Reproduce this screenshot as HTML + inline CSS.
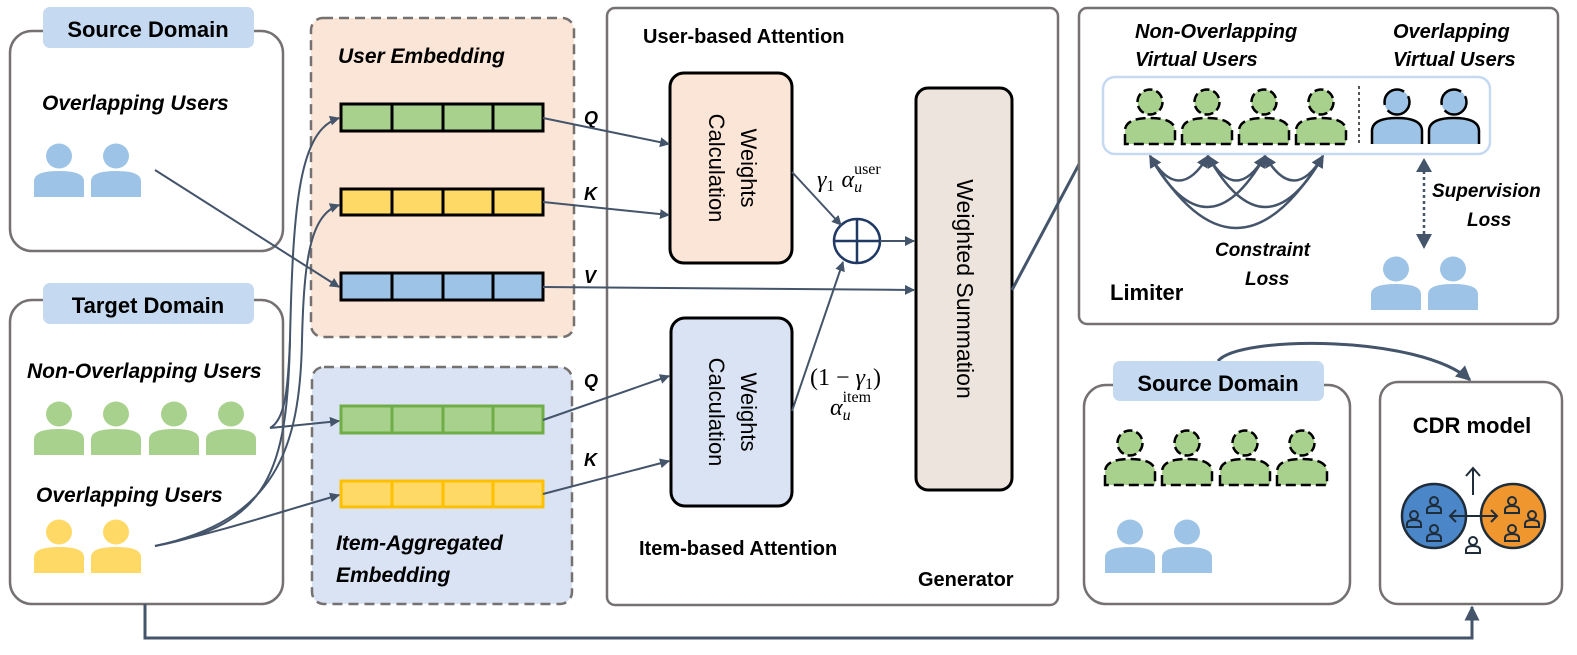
<!DOCTYPE html>
<html><head><meta charset="utf-8"><style>
html,body{margin:0;padding:0;background:#fff;}
svg{display:block;}
.b{font-family:"Liberation Sans",sans-serif;font-weight:bold;fill:#000;}
.bi{font-family:"Liberation Sans",sans-serif;font-weight:bold;font-style:italic;fill:#000;}
.n{font-family:"Liberation Sans",sans-serif;fill:#000;}
.m{font-family:"Liberation Serif",serif;fill:#000;}
</style></head><body>
<svg width="1577" height="655" viewBox="0 0 1577 655" xmlns="http://www.w3.org/2000/svg">
<defs>
<marker id="ah" viewBox="0 0 10 10" refX="9" refY="5" markerWidth="5" markerHeight="5" orient="auto-start-reverse"><path d="M0,0 L10,5 L0,10 Z" fill="#44546a"/></marker>
<g id="u"><ellipse cx="25" cy="13" rx="13" ry="12.5"/><path d="M0,54 L0,38 Q0,28 25,28 Q50,28 50,38 L50,54 Z"/></g>
<g id="ud"><circle cx="26" cy="13" r="12.5" fill="#a9d18e" stroke="#000" stroke-width="2.5" stroke-dasharray="9 4"/><path d="M1,55 L1,42 Q1,29 26,29 Q51,29 51,42 L51,55 Z" fill="#a9d18e" stroke="#000" stroke-width="2.5" stroke-dasharray="10 5"/></g>
<g id="uo"><circle cx="26" cy="13" r="12.5" fill="#9dc3e6" stroke="#000" stroke-width="2.5" stroke-dasharray="30 6"/><path d="M1,55 L1,42 Q1,29 26,29 Q51,29 51,42 L51,55" fill="#9dc3e6" stroke="#000" stroke-width="2.5"/></g>
<g id="sm" fill="none" stroke="#1f2d3a" stroke-width="2"><circle cx="0" cy="-4" r="4"/><path d="M-7,8 L-7,5 Q-7,1 0,1 Q7,1 7,5 L7,8 Z"/></g>
</defs>

<!-- Left source box -->
<rect x="10" y="31" width="273" height="220" rx="22" fill="#fff" stroke="#767171" stroke-width="2.5"/>
<rect x="43" y="7" width="211" height="41" rx="7" fill="#c5d9f1"/>
<text x="148" y="37" class="b" font-size="22" text-anchor="middle">Source Domain</text>
<text x="42" y="110" class="bi" font-size="21">Overlapping Users</text>
<g fill="#9dc3e6"><use href="#u" x="34" y="143"/><use href="#u" x="91" y="143"/></g>

<!-- Left target box -->
<rect x="10" y="300" width="273" height="304" rx="22" fill="#fff" stroke="#767171" stroke-width="2.5"/>
<rect x="43" y="283" width="211" height="41" rx="7" fill="#c5d9f1"/>
<text x="148" y="313" class="b" font-size="22" text-anchor="middle">Target Domain</text>
<text x="27" y="378" class="bi" font-size="21">Non-Overlapping Users</text>
<g fill="#a9d18e"><use href="#u" x="34" y="401"/><use href="#u" x="91" y="401"/><use href="#u" x="149" y="401"/><use href="#u" x="206" y="401"/></g>
<text x="36" y="502" class="bi" font-size="21">Overlapping Users</text>
<g fill="#ffd966"><use href="#u" x="34" y="519"/><use href="#u" x="91" y="519"/></g>

<!-- User embedding -->
<rect x="311" y="18" width="263" height="319" rx="12" fill="#fbe5d6" stroke="#767171" stroke-width="2.5" stroke-dasharray="10 6"/>
<text x="338" y="63" class="bi" font-size="21">User Embedding</text>
<g stroke="#000" stroke-width="3">
<rect x="341" y="104" width="202" height="27" fill="#a9d18e"/><path d="M392,104v27M443,104v27M493,104v27"/>
<rect x="341" y="189" width="202" height="26" fill="#ffd966"/><path d="M392,189v26M443,189v26M493,189v26"/>
<rect x="341" y="273" width="202" height="27" fill="#9dc3e6"/><path d="M392,273v27M443,273v27M493,273v27"/>
</g>

<!-- Item embedding -->
<rect x="312" y="367" width="260" height="237" rx="12" fill="#dae3f3" stroke="#767171" stroke-width="2.5" stroke-dasharray="10 6"/>
<g stroke="#70ad47" stroke-width="3"><rect x="341" y="406" width="202" height="27" fill="#a9d18e"/><path d="M392,406v27M443,406v27M493,406v27"/></g>
<g stroke="#ffc000" stroke-width="3"><rect x="341" y="481" width="202" height="26" fill="#ffd966"/><path d="M392,481v26M443,481v26M493,481v26"/></g>
<text x="336" y="550" class="bi" font-size="21">Item-Aggregated</text>
<text x="336" y="582" class="bi" font-size="21">Embedding</text>

<!-- Q K V labels -->
<text x="584" y="124" class="bi" font-size="18">Q</text>
<text x="584" y="200" class="bi" font-size="18">K</text>
<text x="584" y="283" class="bi" font-size="18">V</text>
<text x="584" y="387" class="bi" font-size="18">Q</text>
<text x="584" y="466" class="bi" font-size="18">K</text>

<!-- Generator -->
<rect x="607" y="8" width="451" height="597" rx="8" fill="#fff" stroke="#767171" stroke-width="2.5"/>
<text x="643" y="43" class="b" font-size="20">User-based Attention</text>
<text x="639" y="555" class="b" font-size="20">Item-based Attention</text>
<text x="918" y="586" class="b" font-size="20">Generator</text>
<rect x="670" y="73" width="122" height="190" rx="14" fill="#fbe5d6" stroke="#000" stroke-width="3"/>
<rect x="671" y="318" width="121" height="188" rx="14" fill="#dae3f3" stroke="#000" stroke-width="3"/>
<rect x="916" y="88" width="96" height="402" rx="12" fill="#ede4dd" stroke="#000" stroke-width="3"/>
<text transform="translate(741,168) rotate(90)" text-anchor="middle" class="n" font-size="22">Weights</text>
<text transform="translate(709,168) rotate(90)" text-anchor="middle" class="n" font-size="22">Calculation</text>
<text transform="translate(741,412) rotate(90)" text-anchor="middle" class="n" font-size="22">Weights</text>
<text transform="translate(709,412) rotate(90)" text-anchor="middle" class="n" font-size="22">Calculation</text>
<text transform="translate(957,289) rotate(90)" text-anchor="middle" class="n" font-size="23">Weighted Summation</text>
<ellipse cx="857" cy="241" rx="23" ry="22" fill="#fff" stroke="#1f3864" stroke-width="2.5"/>
<path d="M834,241h46M857,219v44" stroke="#1f3864" stroke-width="2.5"/>
<text x="817" y="187" class="m" font-size="24" font-style="italic">γ<tspan font-size="16" dy="4" font-style="normal">1</tspan><tspan dx="7" dy="-4">α</tspan><tspan font-size="16" dy="5">u</tspan><tspan font-size="16" dx="-8" dy="-18" font-style="normal">user</tspan></text>
<text x="810" y="385" class="m" font-size="24">(1 − <tspan font-style="italic">γ</tspan><tspan font-size="16" dy="4">1</tspan><tspan dy="-4">)</tspan></text>
<text x="830" y="415" class="m" font-size="24" font-style="italic">α<tspan font-size="16" dy="5">u</tspan><tspan font-size="16" dx="-8" dy="-18" font-style="normal">item</tspan></text>

<!-- Arrows -->
<g fill="none" stroke="#44546a" stroke-width="2" marker-end="url(#ah)">
<path d="M543,118 L669,144"/>
<path d="M543,202 L669,215"/>
<path d="M543,287 L914,290"/>
<path d="M543,420 L669,376"/>
<path d="M543,494 L669,461"/>
<path d="M792,172 L841,225"/>
<path d="M792,411 L843,262"/>
<path d="M880,241 L914,241"/>
<path d="M155,170 L339,287"/>
<path d="M270,428 L339,421"/>
<path d="M155,546 C220,532 270,515 339,495"/>
<path d="M155,546 C270,525 287,470 290,340 C293,200 300,130 339,118"/>
<path d="M155,546 C275,520 300,450 302,340 C304,260 310,215 339,205"/>
<path d="M270,428 C285,420 288,390 290,340" marker-end="none"/>
<path d="M1012,290 L1102,121" stroke-width="3"/>
<path d="M1218,361 C1240,335 1420,335 1470,380" stroke-width="3"/>
<path d="M145,604 L145,638 L1472,638 L1472,607" stroke-width="3"/>
</g>

<!-- Limiter box -->
<rect x="1079" y="8" width="479" height="316" rx="8" fill="#fff" stroke="#767171" stroke-width="2.5"/>
<text x="1135" y="38" class="bi" font-size="20">Non-Overlapping</text>
<text x="1135" y="66" class="bi" font-size="20">Virtual Users</text>
<text x="1393" y="38" class="bi" font-size="20">Overlapping</text>
<text x="1393" y="66" class="bi" font-size="20">Virtual Users</text>
<rect x="1103" y="77" width="387" height="77" rx="12" fill="#fff" stroke="#c5d9f1" stroke-width="2.5"/>
<use href="#ud" x="1124" y="89"/><use href="#ud" x="1181" y="89"/><use href="#ud" x="1238" y="89"/><use href="#ud" x="1295" y="89"/>
<path d="M1359,86v60" stroke="#555" stroke-width="2" stroke-dasharray="3 3"/>
<use href="#uo" x="1371" y="89"/><use href="#uo" x="1428" y="89"/>
<g fill="none" stroke="#44546a" stroke-width="2.5" marker-end="url(#ah)" marker-start="url(#ah)">
<path d="M1150,156 Q1179,205 1208,156"/>
<path d="M1208,156 Q1236,205 1265,156"/>
<path d="M1265,156 Q1294,205 1323,156"/>
<path d="M1150,156 Q1207,258 1265,156"/>
<path d="M1208,156 Q1265,258 1323,156"/>
<path d="M1150,156 Q1236,300 1323,156"/>
</g>
<path d="M1424,165 L1424,240" stroke="#44546a" stroke-width="2.5" stroke-dasharray="3 3" fill="none"/>
<path d="M1416,172 L1424,158 L1432,172 Z M1416,234 L1424,249 L1432,234 Z" fill="#44546a"/>
<text x="1215" y="256" class="bi" font-size="19">Constraint</text>
<text x="1245" y="285" class="bi" font-size="19">Loss</text>
<text x="1432" y="197" class="bi" font-size="19">Supervision</text>
<text x="1467" y="226" class="bi" font-size="19">Loss</text>
<text x="1110" y="300" class="b" font-size="22">Limiter</text>
<g fill="#9dc3e6"><use href="#u" x="1371" y="256"/><use href="#u" x="1428" y="256"/></g>

<!-- Bottom right source -->
<rect x="1084" y="385" width="266" height="219" rx="22" fill="#fff" stroke="#767171" stroke-width="2.5"/>
<rect x="1113" y="361" width="211" height="40" rx="7" fill="#c5d9f1"/>
<text x="1218" y="391" class="b" font-size="22" text-anchor="middle">Source Domain</text>
<use href="#ud" x="1104" y="430"/><use href="#ud" x="1161" y="430"/><use href="#ud" x="1219" y="430"/><use href="#ud" x="1276" y="430"/>
<g fill="#9dc3e6"><use href="#u" x="1105" y="519"/><use href="#u" x="1162" y="519"/></g>

<!-- CDR box -->
<rect x="1380" y="382" width="182" height="222" rx="18" fill="#fff" stroke="#767171" stroke-width="2.5"/>
<text x="1472" y="433" class="b" font-size="22" text-anchor="middle">CDR model</text>
<circle cx="1434" cy="516" r="32" fill="#4a86c8" stroke="#1f2d3a" stroke-width="2.5"/>
<circle cx="1513" cy="516" r="32" fill="#f0962e" stroke="#1f2d3a" stroke-width="2.5"/>
<path d="M1473,495 V468 M1466,476 L1473,468 L1480,476" fill="none" stroke="#1f2d3a" stroke-width="2"/>
<path d="M1450,516 H1497 M1456,510 L1450,516 L1456,522 M1491,510 L1497,516 L1491,522" fill="none" stroke="#1f2d3a" stroke-width="2"/>
<use href="#sm" x="1434" y="505"/><use href="#sm" x="1414" y="519"/><use href="#sm" x="1434" y="533"/>
<use href="#sm" x="1512" y="505"/><use href="#sm" x="1532" y="519"/><use href="#sm" x="1512" y="533"/>
<use href="#sm" x="1473" y="545"/>
</svg>
</body></html>
